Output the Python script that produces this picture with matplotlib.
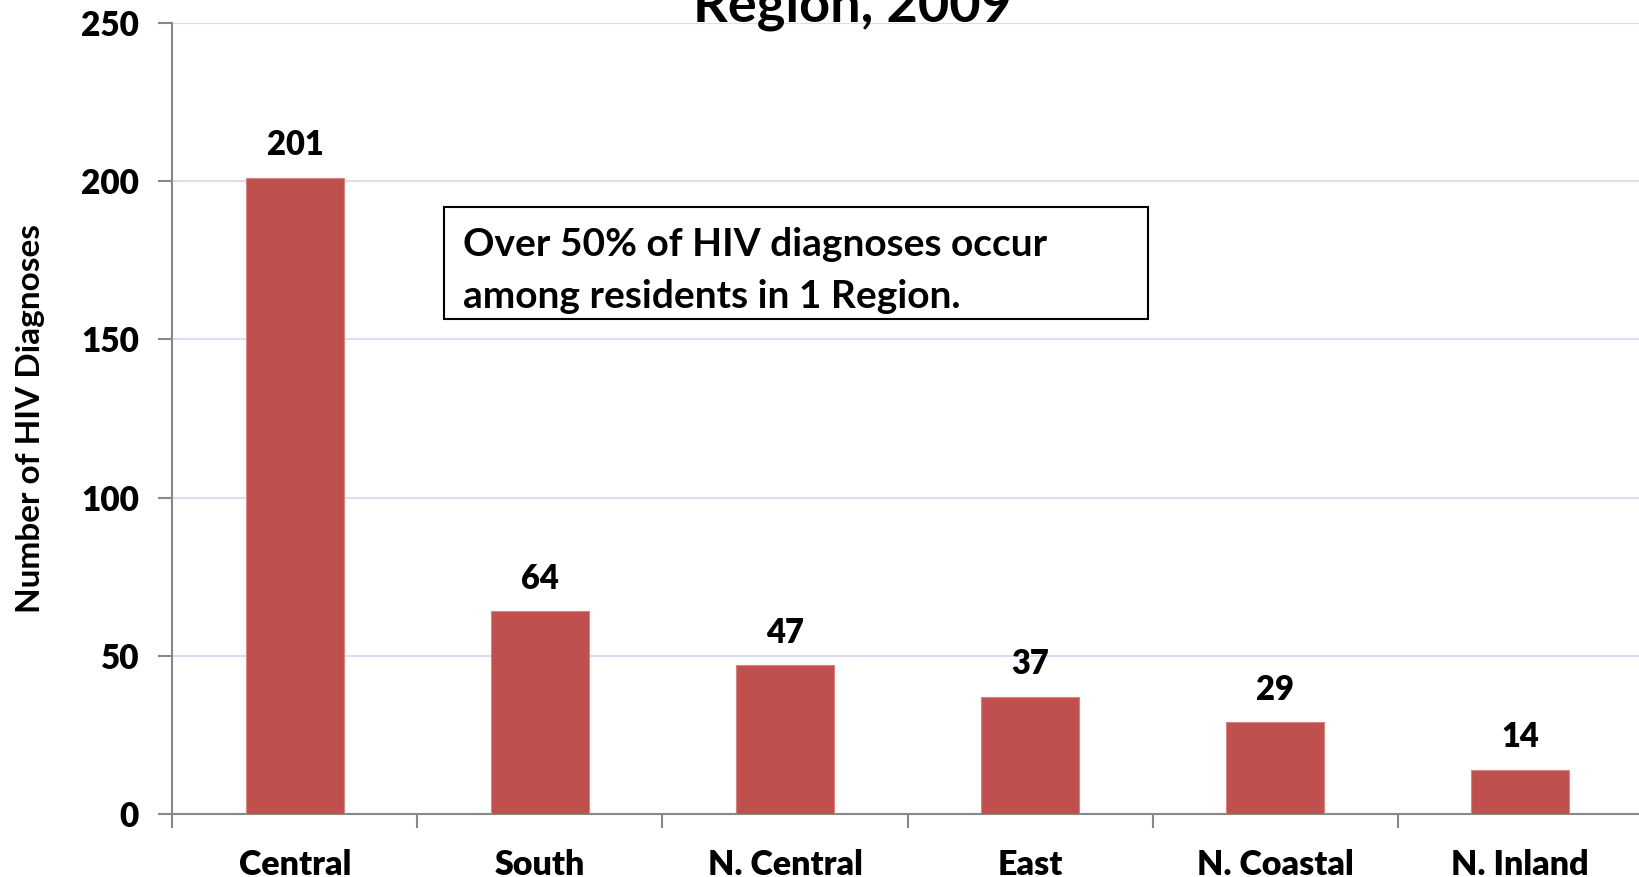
import numpy as np
from matplotlib import pyplot as plt
from matplotlib.patches import Rectangle

regions = ['Central', 'South', 'N. Central', 'East', 'N. Coastal', 'N. Inland']
diagnoses = [201, 64, 47, 37, 29, 14]
yticks = [0, 50, 100, 150, 200, 250]

plt.rcParams['font.family'] = ['Lato', 'DejaVu Sans']
plt.rcParams['font.weight'] = 'bold'

fig = plt.figure(figsize=(16.39, 8.77), dpi=100)
ax = fig.add_axes([0.1052, 0.0718, 0.897, 0.9022])

x = np.arange(len(regions))
ax.bar(x, diagnoses, width=0.4, color='#C0504D', edgecolor='#d9827f', linewidth=0.8, zorder=3)

for xi, v in zip(x, diagnoses):
    ax.annotate(str(v), (xi, v), xytext=(0, 12), textcoords='offset points',
                ha='center', va='bottom', fontsize=23.5, fontweight='heavy')

ax.set_xlim(-0.5, len(regions) - 0.5)
ax.set_ylim(0, 250)
ax.set_yticks(yticks)
ax.set_yticklabels([str(t) for t in yticks], fontsize=24, fontweight='heavy')
ax.set_xticks(x)
ax.set_xticklabels(regions, fontsize=24.5, fontweight='heavy')
ax.set_xticks(np.arange(len(regions) + 1) - 0.5, minor=True)
ax.tick_params(axis='x', which='major', length=0, pad=25)
ax.tick_params(axis='x', which='minor', length=10, width=1.5, color='#888888', direction='out')
ax.tick_params(axis='y', length=10, width=1.5, color='#888888', pad=14)

ax.grid(axis='y', color='#dcdcf5', linewidth=1.5, zorder=0)
for s in ['top', 'right']:
    ax.spines[s].set_visible(False)
for s in ['left', 'bottom']:
    ax.spines[s].set_color('#888888')
    ax.spines[s].set_linewidth(1.5)

ax.set_ylabel('Number of HIV Diagnoses', fontsize=24, fontweight='bold', labelpad=26)

# callout box
ax.add_patch(Rectangle((0.608, 156.4), 3.48 - 0.608, 191.8 - 156.4, facecolor='white',
                       edgecolor='black', linewidth=1.5, zorder=5))
ax.text(0.686, 180.0, 'Over 50% of HIV diagnoses occur', fontsize=28, fontweight='bold',
        va='center', ha='left', zorder=6)
ax.text(0.686, 163.5, 'among residents in 1 Region.', fontsize=28, fontweight='bold',
        va='center', ha='left', zorder=6)

fig.text(0.52, 0.975, 'Region, 2009', ha='center', va='baseline', fontsize=39, fontweight='bold')

plt.savefig('out.png', dpi=100)
